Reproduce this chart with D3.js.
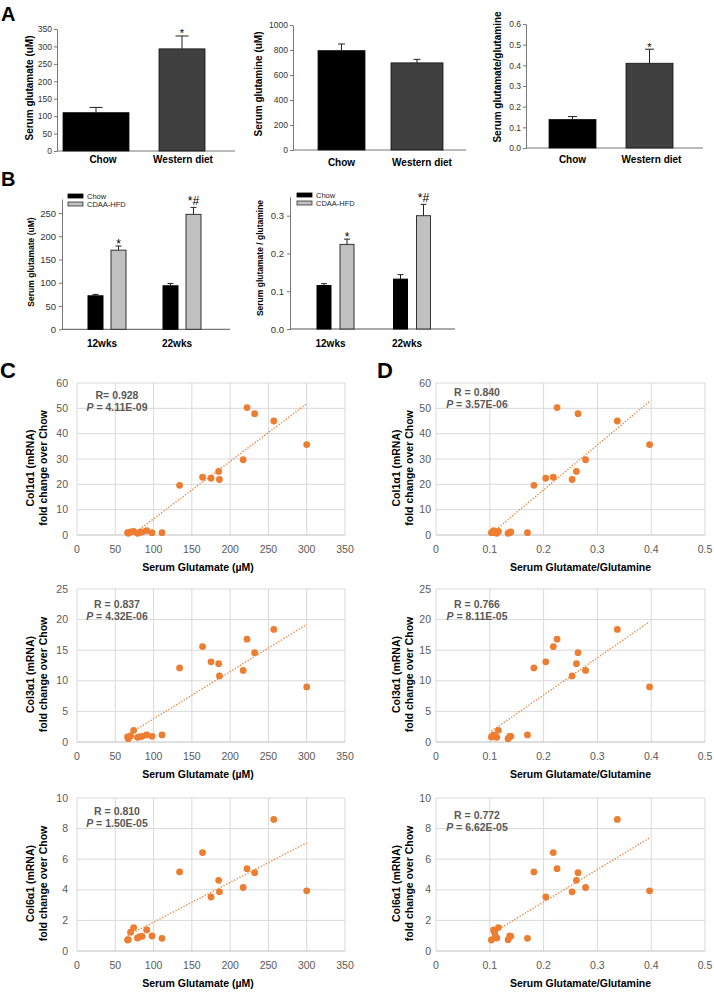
<!DOCTYPE html>
<html>
<head>
<meta charset="utf-8">
<script src="https://cdn.jsdelivr.net/npm/d3@7"></script>
<style>
  body { margin: 0; background: #fff; }
  svg { display: block; font-family: "Liberation Sans", Arial, sans-serif; }
</style>
</head>
<body>
<script>
// ---- data ----
// panel A
var dietCats = ["Chow", "Western diet"];
var aGlutamate = [110, 293], aGlutamateErr = [15, 37];
var aGlutamine = [795, 697], aGlutamineErr = [53, 28];
var aRatio = [0.138, 0.41], aRatioErr = [0.014, 0.068];
var aGlutamateMarks = ["", "*"], aGlutamineMarks = ["", ""], aRatioMarks = ["", "*"];
var aGlutamateTicks = [0, 50, 100, 150, 200, 250, 300, 350];
var aGlutamineTicks = [0, 200, 400, 600, 800, 1000];
var aRatioTicks = [0, 0.1, 0.2, 0.3, 0.4, 0.5, 0.6];

// panel B
var weekCats = ["12wks", "22wks"];
var bSeries = ["Chow", "CDAA-HFD"];
var bGlutChow = [72, 93.5], bGlutChowErr = [3, 5];
var bGlutCdaa = [170, 247], bGlutCdaaErr = [9, 15];
var bRatioChow = [0.115, 0.132], bRatioChowErr = [0.005, 0.012];
var bRatioCdaa = [0.224, 0.300], bRatioCdaaErr = [0.014, 0.030];
var bMarks = ["*", "*#"];
var bGlutTicks = [0, 50, 100, 150, 200, 250];
var bRatioTicks = [0, 0.1, 0.2, 0.3];

// panels C / D (one entry per mouse)
var serumGlutamate = [66, 67, 70, 74, 79, 82, 85, 91, 98, 111, 134, 164, 175, 185, 186, 217, 222, 232, 257, 300];
var serumRatio = [0.103, 0.134, 0.109, 0.116, 0.113, 0.110, 0.139, 0.107, 0.137, 0.170,
                  0.182, 0.218, 0.204, 0.261, 0.253, 0.278, 0.225, 0.264, 0.337, 0.397];
var col1a1 = [0.9, 0.7, 1.2, 1.4, 0.7, 1.0, 1.2, 1.7, 0.9, 0.9, 19.6, 22.8, 22.4, 25.1, 21.9, 29.7, 50.3, 47.9, 45.0, 35.7];
var col3a1 = [0.82, 0.55, 0.98, 1.9, 0.77, 0.85, 0.93, 1.15, 0.93, 1.15, 12.1, 15.6, 13.1, 12.8, 10.8, 11.7, 16.8, 14.6, 18.4, 9.0];
var col6a1 = [0.72, 0.74, 1.23, 1.53, 0.85, 0.94, 0.96, 1.38, 0.98, 0.83, 5.17, 6.43, 3.53, 4.62, 3.87, 4.15, 5.38, 5.12, 8.6, 3.93];
var glutTicks = [0, 50, 100, 150, 200, 250, 300, 350];
var ratioTicks = [0, 0.1, 0.2, 0.3, 0.4, 0.5];
var col1Ticks = [0, 10, 20, 30, 40, 50, 60];
var col3Ticks = [0, 5, 10, 15, 20, 25];
var col6Ticks = [0, 2, 4, 6, 8, 10];
var stats = [
  {r: "R= 0.928", p: "4.11E-09"}, {r: "R = 0.840", p: "3.57E-06"},
  {r: "R = 0.837", p: "4.32E-06"}, {r: "R = 0.766", p: "8.11E-05"},
  {r: "R = 0.810", p: "1.50E-05"}, {r: "R = 0.772", p: "6.62E-05"}
];

// ---- setup ----
var svg = d3.select("body").append("svg").attr("width", 714).attr("height", 992);
svg.append("rect").attr("width", 714).attr("height", 992).attr("fill", "#fff");

function panelLetter(t, x, y, size) {
  svg.append("text").attr("x", x).attr("y", y).attr("font-size", size)
     .attr("font-weight", "bold").text(t);
}
function yTitle(lines, x, cy, size, gap) {
  var t = svg.append("text").attr("transform", "translate(" + x + "," + cy + ") rotate(-90)")
     .attr("text-anchor", "middle").attr("font-size", size).attr("font-weight", "bold");
  lines.forEach(function(l, i){
    t.append("tspan").attr("x", 0).attr("dy", i ? gap : 0).text(l);
  });
}
function styleAxis(ag, size) {
  ag.select(".domain").attr("stroke", "#777");
  ag.selectAll(".tick line").attr("stroke", "#777");
  ag.selectAll(".tick text").attr("fill", "#333").attr("font-size", size)
    .attr("font-family", "Liberation Sans, Arial, sans-serif");
}
function errorBar(g, cx, yTop, yErr, cap) {
  g.append("line").attr("x1", cx).attr("x2", cx).attr("y1", yTop).attr("y2", yErr).attr("stroke", "#222");
  g.append("line").attr("x1", cx - cap / 2).attr("x2", cx + cap / 2).attr("y1", yErr).attr("y2", yErr).attr("stroke", "#222");
}
function mark(g, cx, yErr, txt, size) {
  if (!txt) return;
  g.append("text").attr("x", cx).attr("y", yErr + (txt.indexOf("#") >= 0 ? -2 : 1.5))
   .attr("text-anchor", "middle").attr("font-size", size).text(txt);
}

// ---- panel A: two-bar charts ----
function dietChart(o) {
  var g = svg.append("g");
  var y = d3.scaleLinear().domain([0, o.ticks[o.ticks.length - 1]]).range([o.y0, o.y1]);
  var x = d3.scalePoint().domain(dietCats).range(o.centers);
  var ag = g.append("g").attr("transform", "translate(" + o.ax + ",0)")
    .call(d3.axisLeft(y).tickValues(o.ticks).tickSize(3).tickSizeOuter(0).tickPadding(2).tickFormat(o.fmt));
  styleAxis(ag, 8.5);
  g.append("line").attr("x1", o.ax).attr("x2", o.axEnd).attr("y1", o.y0).attr("y2", o.y0).attr("stroke", "#777");
  dietCats.forEach(function(c, i){
    var w = o.widths[i];
    g.append("rect").attr("x", x(c) - w / 2).attr("y", y(o.values[i])).attr("width", w)
      .attr("height", o.y0 - y(o.values[i]))
      .attr("fill", i ? "#404040" : "#000").attr("stroke", "#111").attr("stroke-width", 0.8);
    var ye = y(o.values[i] + o.errs[i]);
    errorBar(g, x(c), y(o.values[i]), ye, o.cap);
    mark(g, x(c), ye, o.marks[i], 11);
    g.append("text").attr("x", x(c) + o.labelShift[i]).attr("y", o.labelY).attr("text-anchor", "middle")
      .attr("font-size", 10).attr("font-weight", "bold").text(c);
  });
  yTitle([o.title], o.titleX, o.titleY, 10, 0);
}

dietChart({values: aGlutamate, errs: aGlutamateErr, marks: aGlutamateMarks, ticks: aGlutamateTicks,
  fmt: d3.format("d"), ax: 57, axEnd: 235, y0: 151, y1: 29, centers: [96, 182], widths: [66, 46],
  cap: 13, labelY: 163, labelShift: [7, 1], title: "Serum glutamate (uM)", titleX: 33, titleY: 88});
dietChart({values: aGlutamine, errs: aGlutamineErr, marks: aGlutamineMarks, ticks: aGlutamineTicks,
  fmt: d3.format("d"), ax: 293, axEnd: 466, y0: 150, y1: 25, centers: [341.5, 417], widths: [47, 52],
  cap: 7, labelY: 166, labelShift: [0, 5], title: "Serum glutamine (uM)", titleX: 262, titleY: 84});
dietChart({values: aRatio, errs: aRatioErr, marks: aRatioMarks, ticks: aRatioTicks,
  fmt: d3.format(".1f"), ax: 526, axEnd: 703, y0: 148, y1: 24, centers: [572.5, 649.5], widths: [47, 47],
  cap: 9, labelY: 163, labelShift: [0, 2], title: "Serum glutamate/glutamine", titleX: 501, titleY: 77});

// ---- panel B: grouped bars ----
function weekChart(o) {
  var g = svg.append("g");
  var y = d3.scaleLinear().domain([0, o.top]).range([o.y0, o.y1]);
  var x = d3.scalePoint().domain(weekCats).range(o.centers);
  var ag = g.append("g").attr("transform", "translate(" + o.ax + ",0)")
    .call(d3.axisLeft(y).tickValues(o.ticks).tickSize(3).tickSizeOuter(0).tickPadding(3).tickFormat(o.fmt));
  styleAxis(ag, 9.5);
  g.append("line").attr("x1", o.ax).attr("x2", o.axEnd).attr("y1", o.y0).attr("y2", o.y0).attr("stroke", "#555");
  var series = [{v: o.chow, e: o.chowErr, fill: "#000", stroke: "#000"},
                {v: o.cdaa, e: o.cdaaErr, fill: "#c0c0c0", stroke: "#333"}];
  weekCats.forEach(function(c, i){
    series.forEach(function(s, j){
      var cx = x(c) + (j ? 11.5 : -11.5);
      g.append("rect").attr("x", cx - o.bw / 2).attr("y", y(s.v[i])).attr("width", o.bw)
        .attr("height", o.y0 - y(s.v[i])).attr("fill", s.fill).attr("stroke", s.stroke).attr("stroke-width", 1);
      var ye = y(s.v[i] + s.e[i]);
      errorBar(g, cx, y(s.v[i]), ye, 6);
      if (j) mark(g, cx, ye, bMarks[i], 12);
    });
    g.append("text").attr("x", x(c) - 5).attr("y", o.labelY).attr("text-anchor", "middle")
      .attr("font-size", 10).attr("font-weight", "bold").text(c);
  });
  // legend
  bSeries.forEach(function(s, j){
    g.append("rect").attr("x", o.legX).attr("y", o.legY + j * 8).attr("width", 15).attr("height", 4)
      .attr("fill", series[j].fill).attr("stroke", series[j].stroke).attr("stroke-width", 0.8);
    g.append("text").attr("x", o.legX + 19).attr("y", o.legY + j * 8 + 4.5).attr("font-size", 7.5)
      .attr("fill", "#222").text(s);
  });
  yTitle([o.title], o.titleX, o.titleY, 8.5, 0);
}

weekChart({chow: bGlutChow, chowErr: bGlutChowErr, cdaa: bGlutCdaa, cdaaErr: bGlutCdaaErr,
  top: 280, ticks: bGlutTicks, fmt: d3.format("d"), ax: 62, axEnd: 230, y0: 329.3, y1: 199,
  centers: [107, 182], bw: 15, labelY: 347, legX: 68, legY: 194,
  title: "Serum glutamate (uM)", titleX: 34, titleY: 262});
weekChart({chow: bRatioChow, chowErr: bRatioChowErr, cdaa: bRatioCdaa, cdaaErr: bRatioCdaaErr,
  top: 0.35, ticks: bRatioTicks, fmt: d3.format(".1f"), ax: 290, axEnd: 455, y0: 329, y1: 196.8,
  centers: [335.5, 412], bw: 14, labelY: 347, legX: 297, legY: 193,
  title: "Serum glutamate / glutamine", titleX: 263, titleY: 258});

// ---- panels C and D: scatter with linear trendline ----
function linreg(xs, ys) {
  var mx = d3.mean(xs), my = d3.mean(ys), sxy = 0, sxx = 0;
  xs.forEach(function(v, i){ sxy += (v - mx) * (ys[i] - my); sxx += (v - mx) * (v - mx); });
  var b = sxy / sxx;
  return {a: my - b * mx, b: b};
}

var clipId = 0;
function scatter(o) {
  var g = svg.append("g");
  var x = d3.scaleLinear().domain([0, o.xTicks[o.xTicks.length - 1]]).range([o.left, o.right]);
  var y = d3.scaleLinear().domain([0, o.yTicks[o.yTicks.length - 1]]).range([o.bottom, o.top]);
  g.selectAll(".gx").data(o.xTicks).enter().append("line")
    .attr("x1", function(d){ return x(d); }).attr("x2", function(d){ return x(d); })
    .attr("y1", o.top).attr("y2", o.bottom).attr("stroke", "#d9d9d9");
  g.selectAll(".gy").data(o.yTicks).enter().append("line")
    .attr("x1", o.left).attr("x2", o.right)
    .attr("y1", function(d){ return y(d); }).attr("y2", function(d){ return y(d); })
    .attr("stroke", function(d){ return d === 0 ? "#bfbfbf" : "#d9d9d9"; });
  g.selectAll(".tx").data(o.xTicks).enter().append("text")
    .attr("x", function(d){ return x(d); }).attr("y", o.bottom + 18).attr("text-anchor", "middle")
    .attr("font-size", 10.5).attr("fill", "#595959").text(function(d){ return d; });
  g.selectAll(".ty").data(o.yTicks).enter().append("text")
    .attr("x", o.left - o.yPad).attr("y", function(d){ return y(d) + 3.5; }).attr("text-anchor", "end")
    .attr("font-size", 10.5).attr("fill", "#595959").text(function(d){ return d; });

  var id = "clip" + (clipId++);
  svg.append("clipPath").attr("id", id).append("rect")
    .attr("x", o.left).attr("y", o.top).attr("width", o.right - o.left).attr("height", o.bottom - o.top);
  var fit = linreg(o.xs, o.ys), x0 = d3.min(o.xs), x1 = d3.max(o.xs);
  g.append("line").attr("clip-path", "url(#" + id + ")")
    .attr("x1", x(x0)).attr("y1", y(fit.a + fit.b * x0)).attr("x2", x(x1)).attr("y2", y(fit.a + fit.b * x1))
    .attr("stroke", "#ed7d31").attr("stroke-width", 1.3).attr("stroke-dasharray", "1.3,1.7");
  g.selectAll(".dot").data(o.xs).enter().append("circle")
    .attr("cx", function(d){ return x(d); }).attr("cy", function(d, i){ return y(o.ys[i]); })
    .attr("r", 3.4).attr("fill", "#ed7d31");

  var ax = o.left + o.statDx;
  g.append("text").attr("x", ax).attr("y", o.top + o.statDy).attr("text-anchor", "middle")
    .attr("font-size", 10.5).attr("font-weight", "bold").attr("fill", "#595959").text(o.stat.r);
  var pt = g.append("text").attr("x", ax).attr("y", o.top + o.statDy + 12).attr("text-anchor", "middle")
    .attr("font-size", 10.5).attr("font-weight", "bold").attr("fill", "#595959");
  pt.append("tspan").attr("font-style", "italic").text("P");
  pt.append("tspan").text(" = " + o.stat.p);

  g.append("text").attr("x", (o.left + o.right) / 2 + o.xTitleDx).attr("y", o.bottom + 36)
    .attr("text-anchor", "middle").attr("font-size", 10.5).attr("font-weight", "bold").text(o.xTitle);
  yTitle([o.gene + " (mRNA)", "fold change over Chow"], o.yTitleX, (o.top + o.bottom) / 2 + 9, 10.5, 13);
}

var rows = [
  {ys: col1a1, ticks: col1Ticks, gene: "Col1\u03b11", top: 383, bottom: 535, dy: [16, 13]},
  {ys: col3a1, ticks: col3Ticks, gene: "Col3\u03b11", top: 589, bottom: 742, dy: [19, 19]},
  {ys: col6a1, ticks: col6Ticks, gene: "Col6\u03b11", top: 798, bottom: 951, dy: [17, 21]}
];
rows.forEach(function(r, k){
  scatter({xs: serumGlutamate, ys: r.ys, xTicks: glutTicks, yTicks: r.ticks, gene: r.gene,
    left: 77, right: 345, top: r.top, bottom: r.bottom, yPad: 9, statDx: 40, statDy: r.dy[0],
    stat: stats[k * 2], xTitle: "Serum Glutamate (\u00b5M)", xTitleDx: -13, yTitleX: 34});
  scatter({xs: serumRatio, ys: r.ys, xTicks: ratioTicks, yTicks: r.ticks, gene: r.gene,
    left: 436, right: 705, top: r.top, bottom: r.bottom, yPad: 5, statDx: 41, statDy: r.dy[1],
    stat: stats[k * 2 + 1], xTitle: "Serum Glutamate/Glutamine", xTitleDx: 10, yTitleX: 400});
});

panelLetter("A", 1, 21, 20);
panelLetter("B", 1, 186, 20);
panelLetter("C", 0, 378, 22);
panelLetter("D", 377, 378, 22);
</script>
</body>
</html>
